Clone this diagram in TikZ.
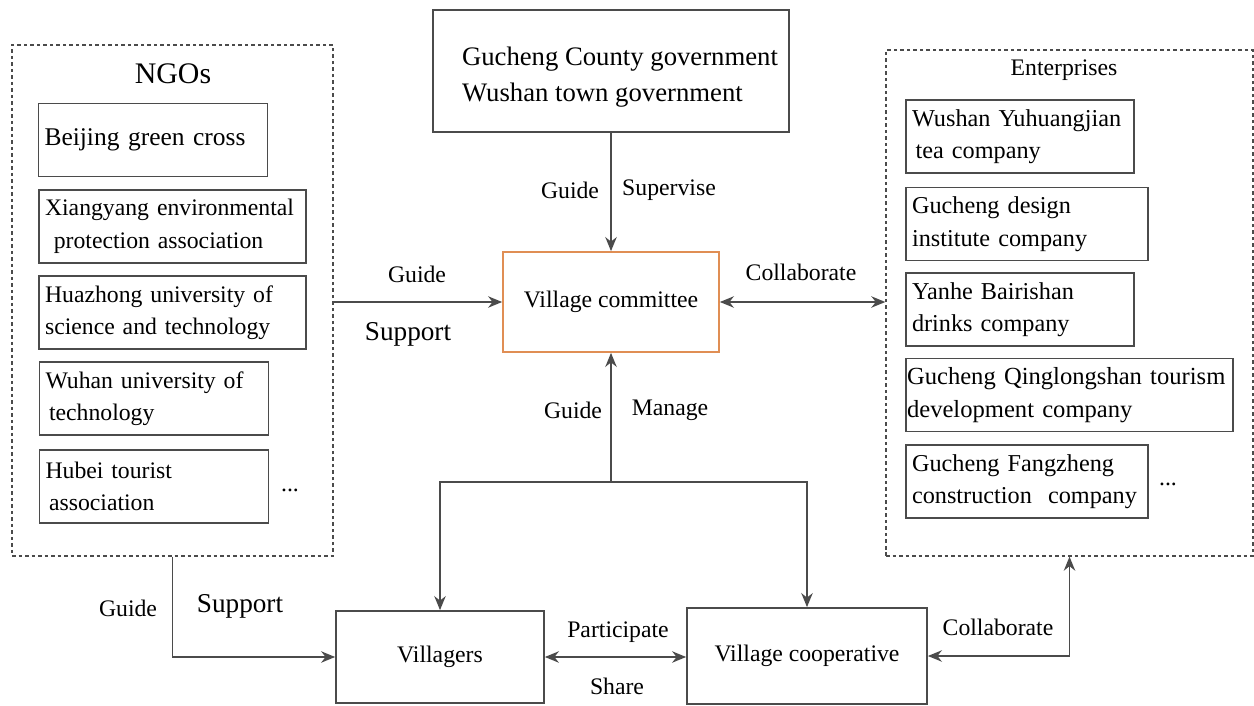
\documentclass[tikz,border=0pt]{standalone}
\usepackage{fontspec}
\setmainfont{Liberation Serif}
\usetikzlibrary{arrows.meta}

\definecolor{linegray}{RGB}{75,75,75}
\definecolor{vcorange}{RGB}{224,142,84}

\tikzset{
  orgbox/.style={draw=linegray, line width=1pt, align=left, inner xsep=0.12cm,
    minimum height=1.46cm, text width=#1},
  mainbox/.style={draw=linegray, line width=1pt, align=center},
  groupbox/.style={draw=linegray, line width=0.8pt, dash pattern=on 2pt off 1.7pt},
  link/.style={draw=linegray, line width=0.9pt, -{Stealth[length=8pt,width=6.5pt]}},
  duallink/.style={draw=linegray, line width=0.9pt, {Stealth[length=8pt,width=6.5pt]}-{Stealth[length=8pt,width=6.5pt]}},
  tag/.style={inner sep=1pt}
}

\begin{document}
\begin{tikzpicture}[x=0.02cm, y=-0.02cm, font=\fontsize{13.5}{18.5}\selectfont]
    \useasboundingbox (0,0) rectangle (1254,706);

    % NGO group (dashed frame)
    \node[groupbox, minimum width=6.42cm, minimum height=10.22cm] (ngos) at (172.5,300.5) {};
    \node[tag, font=\fontsize{17}{20}\selectfont] (ngotitle) at (173,74) {NGOs};
    \node[orgbox=4.34cm, font=\fontsize{14.5}{18.5}\selectfont] (beijing) at (153,140) {Beijing green cross};
    \node[orgbox=5.10cm] (xiangyang) at (172.5,226.5) {Xiangyang environmental\\ \hspace*{5pt}protection association};
    \node[orgbox=5.10cm] (huazhong) at (172.5,312.5) {Huazhong university of\\science and technology};
    \node[orgbox=4.34cm] (wuhan) at (154,398.5) {Wuhan university of\\ \hspace*{2pt}technology};
    \node[orgbox=4.34cm] (hubei) at (154,486.5) {Hubei tourist\\ \hspace*{2pt}association};
    \node[tag] (ngodots) at (290,490) {...};

    % Enterprise group (dashed frame)
    \node[groupbox, minimum width=7.34cm, minimum height=10.12cm] (ent) at (1069.5,303) {};
    \node[tag] (enttitle) at (1064,70) {Enterprises};
    \begin{scope}[font=\fontsize{13.8}{18.5}\selectfont]
    \node[orgbox=4.32cm] (wushan) at (1020,136.5) {Wushan Yuhuangjian\\ \hspace*{2pt}tea company};
    \node[orgbox=4.60cm] (design) at (1027,224) {Gucheng design\\institute company};
    \node[orgbox=4.32cm] (yanhe) at (1020,309.5) {Yanhe Bairishan\\drinks company};
    \node[orgbox=6.5cm, inner xsep=0.02cm, font=\fontsize{14}{18.5}\selectfont] (qinglong) at (1069.5,395)
      {Gucheng Qinglongshan tourism\\development company};
    \node[orgbox=4.60cm] (fangzheng) at (1027,481.5) {Gucheng Fangzheng\\construction\ \ company};
    \end{scope}
    \node[tag] (entdots) at (1168,484) {...};

    % Governments
    \node[mainbox, align=left, minimum width=7.12cm, minimum height=2.44cm, text height=1.33cm,
      font=\fontsize{15.2}{20.4}\selectfont] (gov) at (611,71)
      {\hspace*{0.36cm}Gucheng County government\\\hspace*{0.36cm}Wushan town government};

    % Village committee
    \node[mainbox, draw=vcorange, minimum width=4.32cm, minimum height=2cm] (vc) at (611,302) {Village committee};

    % Villagers and cooperative
    \node[mainbox, minimum width=4.16cm, minimum height=1.84cm] (villagers) at (440,657) {Villagers};
    \node[mainbox, minimum width=4.8cm, minimum height=1.92cm] (coop) at (807,656) {Village cooperative};
    \coordinate (split) at (611,482);

    % Connectors
    \draw[link] (gov) -- (vc);
    \draw[link] (ngos.east |- vc.west) -- (vc.west);
    \draw[duallink] (vc.east) -- (ent.west |- vc.east);
    \draw[link] (split) -- (vc.south);
    \draw[link] (split) -| (villagers.north);
    \draw[link] (split) -| (coop.north);
    \draw[duallink] (villagers.east) -- (villagers.east -| coop.west);
    \draw[link] (ngos.south) |- (villagers.west);
    \draw[duallink] (coop.east) -| (ent.south);

    % Connector labels
    \node[tag] (lguide1) at (570,190) {Guide};
    \node[tag] (lsupervise) at (669,190) {Supervise};
    \node[tag] (lguide2) at (417,274) {Guide};
    \node[tag, font=\fontsize{15.5}{18}\selectfont] (lsupport1) at (408,334) {Support};
    \node[tag] (lcollab1) at (801,272) {Collaborate};
    \node[tag] (lguide3) at (573,410) {Guide};
    \node[tag] (lmanage) at (670,410) {Manage};
    \node[tag] (lguide4) at (128,608) {Guide};
    \node[tag, font=\fontsize{15.5}{18}\selectfont] (lsupport2) at (240,606) {Support};
    \node[tag] (lparticipate) at (618,632) {Participate};
    \node[tag] (lshare) at (617,686) {Share};
    \node[tag] (lcollab2) at (998,627) {Collaborate};
\end{tikzpicture}
\end{document}
